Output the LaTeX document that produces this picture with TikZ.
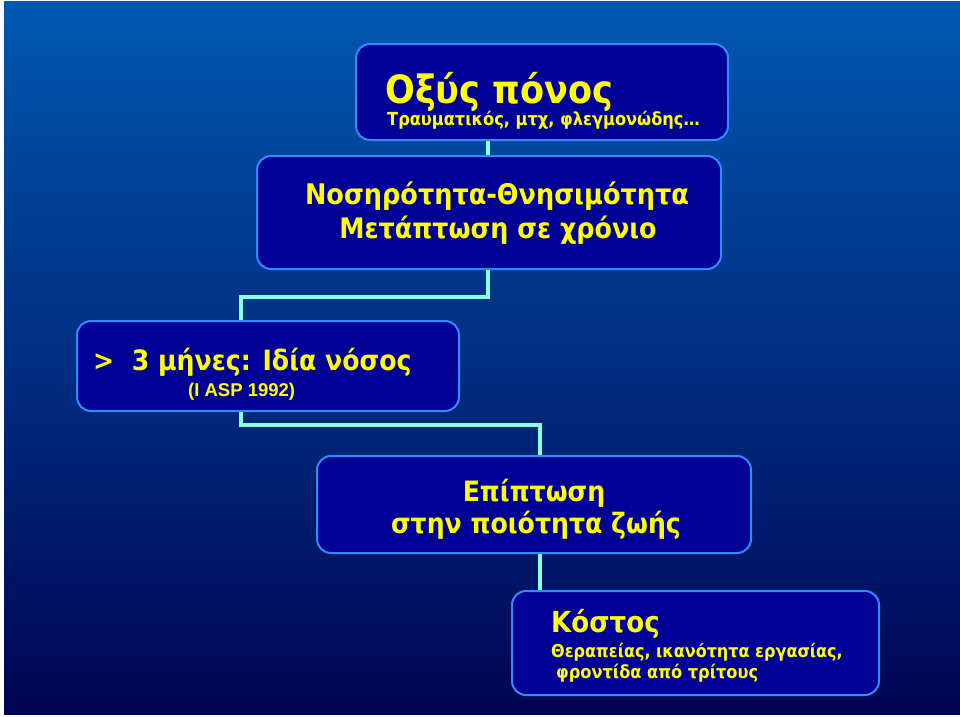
\documentclass[tikz,border=0pt]{standalone}
\usepackage{fontspec}
\setmainfont{DejaVu Sans}[FakeStretch=0.9]
\newfontfamily\arialf{Liberation Sans}
\definecolor{bgtop}{RGB}{0,88,176}
\definecolor{bgbot}{RGB}{0,4,82}
\definecolor{boxfill}{RGB}{0,0,150}
\definecolor{boxline}{RGB}{45,140,255}
\definecolor{connc}{RGB}{140,255,220}
\definecolor{txt}{RGB}{255,255,0}
\begin{document}
\begin{tikzpicture}[x=1pt,y=-1pt,
  box/.style={draw=boxline,line width=2pt,fill=boxfill,rounded corners=14pt,
    anchor=north west,inner sep=0pt},
  conn/.style={draw=connc,line width=4pt},
  lbl/.style={text=txt,inner sep=0pt,font=\bfseries}]
\useasboundingbox (0,0) rectangle (960,716);
\fill[white] (0,0) rectangle (960,716);
\shade[top color=bgtop,bottom color=bgbot] (4,1) rectangle (960,714);
% boxes
\node[box,minimum width=372pt,minimum height=96pt] (b1) at (355,43) {};
\node[box,minimum width=464pt,minimum height=113pt] (b2) at (256,155) {};
\node[box,minimum width=382pt,minimum height=90pt] (b3) at (76,320) {};
\node[box,minimum width=434pt,minimum height=97pt] (b4) at (316,455) {};
\node[box,minimum width=367pt,minimum height=104pt] (b5) at (511,590) {};
% junctions
\coordinate (j1) at (488,0);
\coordinate (j2) at (241,297);
\coordinate (j3) at (540,425);
% connectors
\path[conn] (b1.south -| j1) -- (b2.north -| j1);
\path[conn] (b2.south -| j1) |- (j2) -- (b3.north -| j2);
\path[conn] (b3.south -| j2) |- (j3) -- (b4.north -| j3);
\path[conn] (b4.south -| j3) -- (b5.north -| j3);
% texts
\node[lbl,anchor=base west,font=\bfseries\fontsize{39}{44}\selectfont] (t1a) at (385,103) {Οξύς πόνος};
\node[lbl,anchor=base west,font=\bfseries\fontsize{18}{21}\selectfont] (t1b) at (387,125) {Τραυματικός, μτχ, φλεγμονώδης…};
\node[lbl,anchor=base,font=\bfseries\fontsize{28.4}{32}\selectfont] (t2a) at (497,204) {Νοσηρότητα-Θνησιμότητα};
\node[lbl,anchor=base,font=\bfseries\fontsize{28.2}{32}\selectfont] (t2b) at (498,238) {Μετάπτωση σε χρόνιο};
\node[lbl,anchor=base west,font=\bfseries\fontsize{28}{32}\selectfont] (t3a) at (93,370) {>\ \ 3 μήνες: Ιδία νόσος};
\node[lbl,anchor=base west,font=\arialf\bfseries\fontsize{18.5}{22}\selectfont] (t3b) at (188,396) {(I ASP 1992)};
\node[lbl,anchor=base,font=\bfseries\fontsize{28}{32}\selectfont] (t4a) at (534,501) {Επίπτωση};
\node[lbl,anchor=base,font=\bfseries\fontsize{28}{32}\selectfont] (t4b) at (536,533) {στην ποιότητα ζωής};
\node[lbl,anchor=base west,font=\bfseries\fontsize{29}{34}\selectfont] (t5a) at (551,632) {Κόστος};
\node[lbl,anchor=base west,font=\bfseries\fontsize{17.8}{21}\selectfont] (t5b) at (551,657) {Θεραπείας, ικανότητα εργασίας,};
\node[lbl,anchor=base west,font=\bfseries\fontsize{18}{21}\selectfont] (t5c) at (556,678) {φροντίδα από τρίτους};
\end{tikzpicture}
\end{document}
